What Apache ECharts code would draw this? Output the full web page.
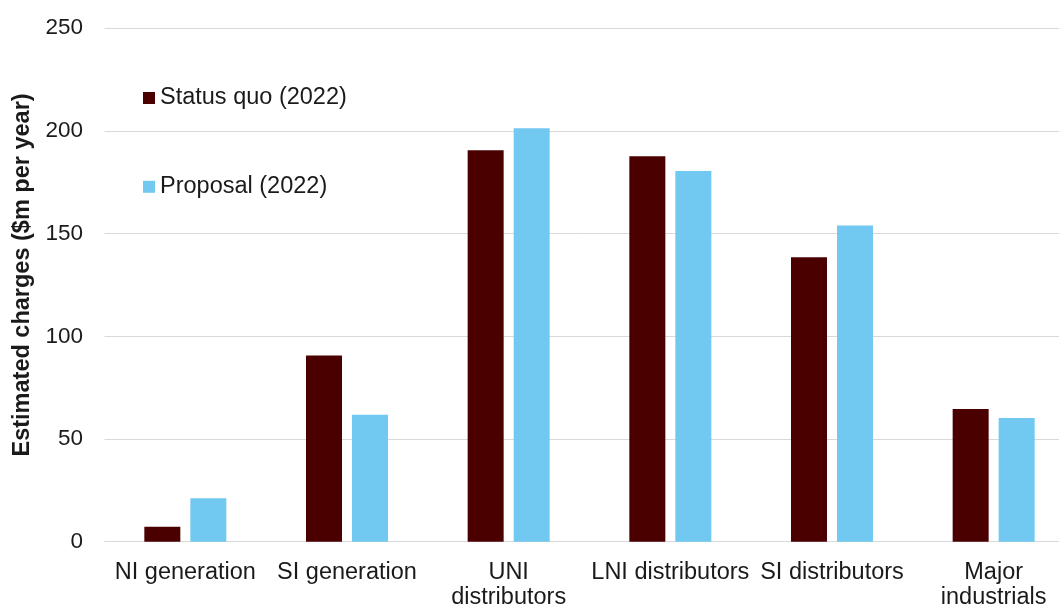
<!DOCTYPE html>
<html>
<head>
<meta charset="utf-8">
<title>Estimated charges by customer group</title>
<script src="https://cdn.jsdelivr.net/npm/echarts@6/dist/echarts.min.js"></script>
<style>
  html, body { margin: 0; padding: 0; background: #ffffff; }
  #chart { width: 1059px; height: 605px; }
</style>
</head>
<body>
<div id="chart"></div>
<script>
// Customer groups along the x axis
const categories = [
  'NI generation',
  'SI generation',
  'UNI\ndistributors',
  'LNI distributors',
  'SI distributors',
  'Major\nindustrials'
];

// Estimated annual charges, $m per year
const statusQuo2022 = [7.3, 90.7, 190.6, 187.6, 138.5, 64.6];
const proposal2022 = [21.1, 61.8, 201.3, 180.5, 154.0, 60.2];

// Value axis ticks
const yTicks = [0, 50, 100, 150, 200, 250];

const FONT = '"Liberation Sans", Arial, Helvetica, sans-serif';
const TEXT = '#1a1a1a';
const GRID = '#d9d9d9';

const chart = echarts.init(document.getElementById('chart'), null, { renderer: 'canvas' });

chart.setOption({
  animation: false,
  backgroundColor: '#ffffff',
  textStyle: { fontFamily: FONT, color: TEXT },
  // the last category runs a little past the right edge of the canvas
  grid: {
    left: 104.5,
    width: 970,
    top: 28.2,
    bottom: 63.3,
    containLabel: false,
    outerBoundsMode: 'none'
  },
  legend: {
    orient: 'vertical',
    left: 138,
    top: 81,
    padding: 5,
    itemWidth: 12,
    itemHeight: 12,
    itemGap: 64.8,
    icon: 'rect',
    textStyle: { fontFamily: FONT, fontSize: 23.5, color: TEXT, lineHeight: 23.5 },
    data: ['Status quo (2022)', 'Proposal (2022)']
  },
  xAxis: {
    type: 'category',
    data: categories,
    axisTick: { show: false },
    axisLine: { show: true, lineStyle: { color: GRID, width: 1 } },
    axisLabel: {
      interval: 0,
      margin: 18,
      fontFamily: FONT,
      fontSize: 23.5,
      lineHeight: 25,
      color: TEXT,
      align: 'center'
    }
  },
  yAxis: {
    type: 'value',
    min: yTicks[0],
    max: yTicks[yTicks.length - 1],
    interval: yTicks[1] - yTicks[0],
    name: 'Estimated charges ($m per year)',
    nameLocation: 'middle',
    nameGap: 70,
    nameTextStyle: {
      fontFamily: FONT,
      fontSize: 23.5,
      fontWeight: 'bold',
      color: TEXT,
      padding: [0, 0, 0, 20]
    },
    axisLine: { show: false },
    axisTick: { show: false },
    axisLabel: {
      margin: 21.5,
      fontFamily: FONT,
      fontSize: 22.5,
      color: TEXT
    },
    splitLine: { show: true, lineStyle: { color: GRID, width: 1 } }
  },
  series: [
    {
      name: 'Status quo (2022)',
      type: 'bar',
      data: statusQuo2022,
      barWidth: 36,
      barGap: '27.8%',
      itemStyle: { color: '#4b0000' }
    },
    {
      name: 'Proposal (2022)',
      type: 'bar',
      data: proposal2022,
      barWidth: 36,
      itemStyle: { color: '#71c8f0' }
    }
  ]
});
</script>
</body>
</html>
